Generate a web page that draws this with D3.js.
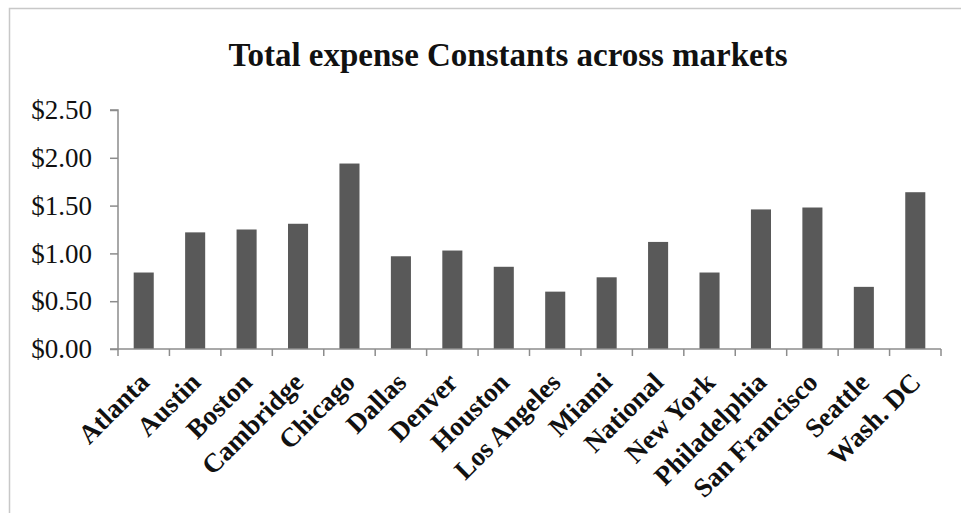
<!DOCTYPE html>
<html>
<head>
<meta charset="utf-8">
<script src="https://cdn.jsdelivr.net/npm/d3@7"></script>
<style>
  html, body { margin: 0; padding: 0; background: #fff; }
  svg { display: block; }
</style>
</head>
<body>
<svg id="chart" width="961" height="513"></svg>
<script>
// Market names (x categories)
const markets = ["Atlanta", "Austin", "Boston", "Cambridge", "Chicago", "Dallas", "Denver",
  "Houston", "Los Angeles", "Miami", "National", "New York", "Philadelphia",
  "San Francisco", "Seattle", "Wash. DC"];

// Total expense constant per market, in dollars
const expenseConstants = [0.80, 1.22, 1.25, 1.31, 1.94, 0.97, 1.03, 0.86, 0.60, 0.75,
  1.12, 0.80, 1.46, 1.48, 0.65, 1.64];

// Y axis tick values
const yTicks = [0, 0.5, 1.0, 1.5, 2.0, 2.5];

const titleText = "Total expense Constants across markets";

const svg = d3.select("#chart");
const W = 961, H = 513;
const plot = { left: 118, right: 941, top: 110, bottom: 349 };
const serif = "'Liberation Serif', 'DejaVu Serif', serif";

// chart area frame
svg.append("path")
  .attr("d", `M9.5,${H} V8.5 H${W}`)
  .attr("fill", "none")
  .attr("stroke", "#c8c8c8")
  .attr("stroke-width", 1.5);

const x = d3.scaleBand()
  .domain(markets)
  .range([plot.left, plot.right])
  .paddingInner(0.61)
  .paddingOuter(0.305);

const y = d3.scaleLinear()
  .domain([0, 2.5])
  .range([plot.bottom, plot.top]);

// title
svg.append("text")
  .attr("x", 508)
  .attr("y", 66)
  .attr("text-anchor", "middle")
  .attr("font-family", serif)
  .attr("font-weight", "bold")
  .attr("font-size", 33)
  .attr("fill", "#111")
  .text(titleText);

// bars
svg.append("g")
  .selectAll("rect")
  .data(markets.map((m, i) => ({ m, v: expenseConstants[i] })))
  .join("rect")
  .attr("x", d => x(d.m))
  .attr("width", x.bandwidth())
  .attr("y", d => y(d.v))
  .attr("height", d => y(0) - y(d.v))
  .attr("fill", "#595959");

// y axis
const yAxis = svg.append("g")
  .attr("transform", `translate(${plot.left},0)`)
  .call(d3.axisLeft(y).tickValues(yTicks).tickSize(8).tickPadding(18)
    .tickFormat(d => "$" + d3.format(".2f")(d)));
yAxis.selectAll("path, line").attr("stroke", "#8c8c8c").attr("stroke-width", 1.5);
yAxis.select(".domain").attr("d", `M-8,${plot.top}H0V${plot.bottom}H-8`);
yAxis.selectAll("text")
  .attr("font-family", serif)
  .attr("font-size", 27)
  .attr("fill", "#111");

// x axis: ticks at band boundaries
const boundaries = d3.range(markets.length + 1).map(i => plot.left + i * x.step());
const xAxisG = svg.append("g");
xAxisG.append("line")
  .attr("x1", plot.left).attr("x2", plot.right)
  .attr("y1", plot.bottom).attr("y2", plot.bottom)
  .attr("stroke", "#8c8c8c").attr("stroke-width", 1.5);
xAxisG.selectAll("line.tick")
  .data(boundaries)
  .join("line")
  .attr("class", "tick")
  .attr("x1", d => d).attr("x2", d => d)
  .attr("y1", plot.bottom).attr("y2", plot.bottom + 7)
  .attr("stroke", "#8c8c8c").attr("stroke-width", 1.5);

// rotated category labels
svg.append("g")
  .selectAll("text")
  .data(markets)
  .join("text")
  .attr("transform", d => `translate(${x(d) + x.bandwidth() / 2 + 7},384) rotate(-45)`)
  .attr("text-anchor", "end")
  .attr("font-family", serif)
  .attr("font-weight", "bold")
  .attr("font-size", 27)
  .attr("fill", "#111")
  .text(d => d);
</script>
</body>
</html>
